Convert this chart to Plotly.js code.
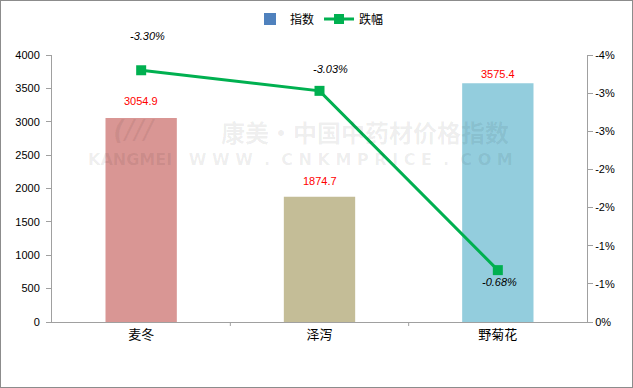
<!DOCTYPE html>
<html>
<head>
<meta charset="utf-8">
<script src="https://cdn.plot.ly/plotly-3.0.1.min.js"></script>
<style>
html,body{margin:0;padding:0;background:#fff;}
#wrap{width:631px;height:386px;border:1px solid #8c8c8c;}
#chart{width:631px;height:386px;}
</style>
</head>
<body>
<div id="wrap"><div id="chart"></div></div>
<script>
const categories = ['麦冬', '泽泻', '野菊花'];
const indexValues = [3054.9, 1874.7, 3575.4];
const changeValues = [-3.30, -3.03, -0.68];
const y2TickVals = [0, -0.5, -1, -1.5, -2, -2.5, -3, -3.5];
const y2TickText = ['0%', '-1%', '-1%', '-2%', '-2%', '-3%', '-3%', '-4%'];

const barColors = ['#D99694', '#C4BD97', '#93CDDD'];
const barLabelShift = [17, 16, 9];
const lineLabelShift = [[6, 34], [11, 22], [2, -12]];

const font = 'Liberation Sans, Arial, Noto Sans CJK SC, sans-serif';

const traces = [
  {
    type: 'bar', x: categories, y: indexValues, width: 0.4,
    marker: {color: barColors}, showlegend: false, hoverinfo: 'none'
  },
  {
    type: 'bar', x: categories, y: [null, null, null], name: '指数',
    marker: {color: '#4F81BD'}, showlegend: true
  },
  {
    type: 'scatter', mode: 'lines+markers', x: categories, y: changeValues,
    yaxis: 'y2', name: '跌幅',
    line: {color: '#00B050', width: 3},
    marker: {symbol: 'square', size: 10, color: '#00B050'}
  }
];

const annotations = [];
categories.forEach((c, i) => {
  annotations.push({
    x: c, y: indexValues[i], xref: 'x', yref: 'y', text: indexValues[i].toFixed(1),
    showarrow: false, yshift: barLabelShift[i], yanchor: 'middle',
    font: {family: font, size: 11, color: '#FF0000'}
  });
  annotations.push({
    x: c, y: changeValues[i], xref: 'x', yref: 'y2', text: '<i>' + changeValues[i].toFixed(2) + '%</i>',
    showarrow: false, xshift: lineLabelShift[i][0], yshift: lineLabelShift[i][1], yanchor: 'middle',
    font: {family: font, size: 11, color: '#000000'}
  });
});
// watermark
annotations.push({
  xref: 'paper', yref: 'paper', x: 0.585, y: 0.715, xanchor: 'center', yanchor: 'middle',
  text: '<b>康美·中国中药材价格指数</b>', showarrow: false,
  font: {family: 'Noto Sans CJK SC, sans-serif', size: 24, color: 'rgba(0,0,0,0.07)'}
});
annotations.push({
  xref: 'paper', yref: 'paper', x: 0.465, y: 0.608, xanchor: 'center', yanchor: 'middle',
  text: '<b>KANGMEI   W W W  .  C N K M P R I C E  .  C O M</b>', showarrow: false,
  font: {family: 'DejaVu Sans, sans-serif', size: 16, color: 'rgba(0,0,0,0.07)'}
});
annotations.push({
  xref: 'paper', yref: 'paper', x: 0.155, y: 0.72, xanchor: 'center', yanchor: 'middle',
  text: '<b><i>(///</i></b>', showarrow: false,
  font: {family: 'DejaVu Sans, sans-serif', size: 26, color: 'rgba(0,0,0,0.06)'}
});

const layout = {
  width: 631, height: 386,
  margin: {l: 51, r: 45, t: 54, b: 65, autoexpand: false},
  paper_bgcolor: '#fff', plot_bgcolor: '#fff',
  barmode: 'overlay',
  showlegend: true,
  legend: {orientation: 'h', x: 0.5, xanchor: 'center', y: 1.135, yanchor: 'middle',
    font: {family: font, size: 12, color: '#000'}, itemwidth: 30, traceorder: 'normal'},
  xaxis: {
    type: 'category', showline: true, linecolor: '#A0A0A0', linewidth: 1,
    ticks: '', showgrid: false, zeroline: false,
    tickfont: {family: 'Noto Sans CJK SC, sans-serif', size: 13, color: '#000'},
    fixedrange: true
  },
  yaxis: {
    range: [0, 4000], dtick: 500, tick0: 0, showline: true, linecolor: '#A0A0A0',
    ticks: 'outside', ticklen: 5, tickcolor: '#A0A0A0', showgrid: false, zeroline: false,
    tickfont: {family: font, size: 11, color: '#000'}, ticklabelstandoff: 4
  },
  yaxis2: {
    overlaying: 'y', side: 'right', range: [0, -3.5], tickvals: y2TickVals, ticktext: y2TickText,
    showline: true, linecolor: '#A0A0A0', ticks: 'outside', ticklen: 5, tickcolor: '#A0A0A0',
    showgrid: false, zeroline: false,
    tickfont: {family: font, size: 11, color: '#000'}
  },
  shapes: [
    {type: 'line', xref: 'x', yref: 'paper', x0: 0.5, x1: 0.5, y0: 0, y1: -0.015, line: {color: '#A0A0A0', width: 1}},
    {type: 'line', xref: 'x', yref: 'paper', x0: 1.5, x1: 1.5, y0: 0, y1: -0.015, line: {color: '#A0A0A0', width: 1}}
  ],
  annotations: annotations
};

Plotly.newPlot('chart', traces, layout, {displayModeBar: false, staticPlot: true});
</script>
</body>
</html>
